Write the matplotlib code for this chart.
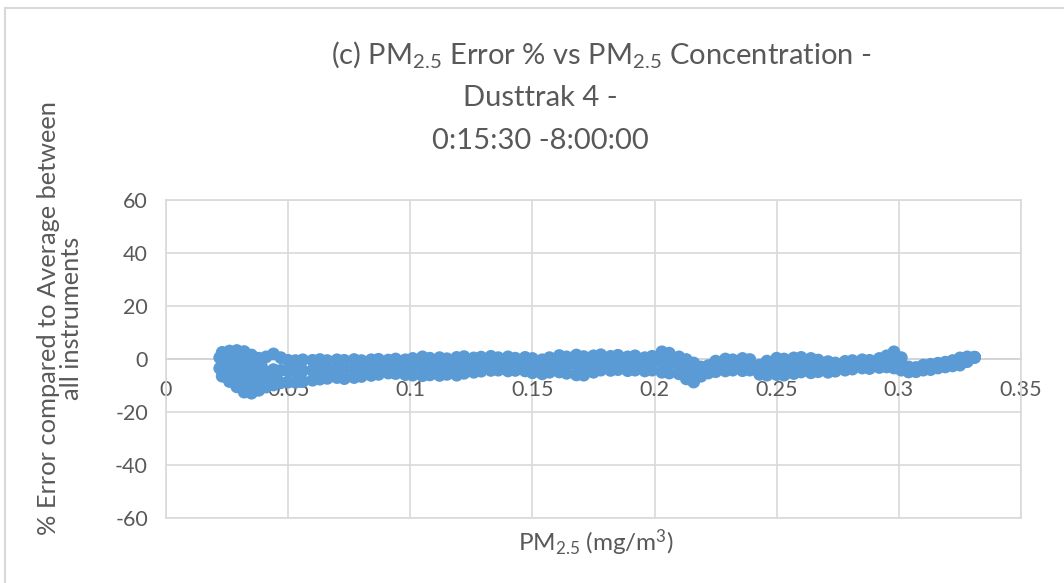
import numpy as np
import matplotlib.pyplot as plt
from matplotlib.patches import Rectangle

plt.rcParams['font.family'] = ['Lato', 'DejaVu Sans']
plt.rcParams['mathtext.fontset'] = 'custom'
plt.rcParams['mathtext.rm'] = 'Lato'
plt.rcParams['mathtext.it'] = 'Lato:italic'
plt.rcParams['mathtext.bf'] = 'Lato:bold'
plt.rcParams['axes.unicode_minus'] = False

# PM2.5 concentration (mg/m3) and error % (edges and middle of the cloud)
x_pm = [0.023, 0.026, 0.029, 0.032, 0.035, 0.038, 0.041, 0.044, 0.047, 0.050,
        0.053, 0.056, 0.060, 0.063, 0.066, 0.070, 0.073, 0.077, 0.080, 0.084,
        0.087, 0.091, 0.094, 0.098, 0.101, 0.105, 0.108, 0.112, 0.115, 0.119,
        0.122, 0.126, 0.129, 0.133, 0.136, 0.140, 0.143, 0.147, 0.150, 0.154,
        0.157, 0.161, 0.164, 0.168, 0.171, 0.175, 0.178, 0.182, 0.185, 0.189,
        0.192, 0.196, 0.199, 0.203, 0.206, 0.210, 0.213, 0.216, 0.219, 0.222,
        0.225, 0.229, 0.232, 0.236, 0.239, 0.243, 0.246, 0.250, 0.253, 0.257,
        0.260, 0.264, 0.267, 0.271, 0.274, 0.278, 0.281, 0.285, 0.288, 0.292,
        0.295, 0.298, 0.301, 0.304, 0.307, 0.310, 0.313, 0.316, 0.319, 0.322,
        0.325, 0.328, 0.331]

err_top = [2.5, 3.0, 3.2, 2.8, 1.5, 0.3, 0.8, 1.9, 0.5, -0.5,
           -0.6, -0.3, -0.5, -0.2, -0.6, -0.3, -0.5, -0.2, -0.6, -0.3,
           -0.1, -0.4, 0.0, -0.3, 0.2, 0.8, 0.3, 0.5, 0.1, 0.6,
           0.9, 0.4, 0.7, 1.0, 0.5, 0.8, 0.3, 0.6, 0.2, -0.3,
           0.5, 1.3, 0.8, 1.5, 0.9, 1.2, 1.6, 1.0, 1.4, 0.8,
           1.2, 0.5, 1.0, 2.7, 2.2, 0.8, -0.2, -1.5, -3.0, -2.5,
           -0.8, 0.0, -0.3, 0.2, -0.2, -2.3, -0.8, 0.3, 0.0, 0.4,
           0.6, 0.2, -0.4, -1.0, -1.5, -0.9, -0.6, -0.3, -0.5, 0.2,
           1.2, 2.7, 0.5, -3.0, -3.2, -2.3, -2.0, -1.6, -1.2, -0.6,
           0.4, 0.8, 0.7]

err_mid = [-2.0, -2.8, -3.6, -4.8, -5.6, -5.8, -4.9, -4.0, -4.3, -4.6,
           -4.7, -4.4, -4.2, -3.9, -4.0, -3.7, -3.9, -3.6, -3.6, -3.3,
           -2.9, -2.8, -2.7, -3.1, -2.9, -2.8, -2.9, -2.8, -2.9, -2.7,
           -2.2, -2.3, -1.9, -1.6, -1.9, -1.8, -2.0, -1.9, -2.5, -2.9,
           -2.2, -1.8, -2.3, -2.2, -2.6, -1.9, -1.3, -1.7, -1.3, -1.8,
           -1.5, -2.0, -1.6, -1.1, -1.5, -2.4, -3.8, -5.0, -4.7, -3.9,
           -2.8, -2.2, -2.3, -2.1, -2.2, -4.0, -3.4, -2.8, -3.0, -2.5,
           -2.2, -2.5, -2.6, -3.0, -3.1, -2.6, -2.2, -1.9, -2.0, -1.5,
           -0.9, -0.4, -1.9, -4.0, -4.0, -3.2, -3.0, -2.5, -2.1, -1.6,
           -1.0, -0.1, 0.6]

err_bot = [-6.5, -8.5, -10.5, -12.5, -12.9, -11.8, -10.6, -9.8, -9.0, -8.7,
           -8.8, -8.5, -8.0, -7.6, -7.3, -7.0, -7.4, -7.0, -6.6, -6.2,
           -5.8, -5.3, -5.5, -5.9, -6.1, -6.3, -6.0, -6.2, -5.8, -6.1,
           -5.4, -5.0, -4.6, -4.3, -4.2, -4.5, -4.3, -4.5, -5.2, -5.6,
           -5.0, -4.9, -5.4, -6.0, -6.1, -5.0, -4.2, -4.3, -4.0, -4.4,
           -4.2, -4.5, -4.2, -5.0, -5.3, -5.6, -7.5, -8.7, -6.5, -5.3,
           -4.8, -4.5, -4.2, -4.4, -4.2, -5.8, -6.1, -5.9, -6.1, -5.5,
           -4.9, -5.2, -4.8, -5.0, -4.6, -4.2, -3.8, -3.4, -3.6, -3.2,
           -3.0, -3.4, -4.2, -4.9, -4.8, -4.2, -4.0, -3.4, -3.0, -2.6,
           -2.3, -1.0, 0.6]

# extra points in the wide cloud at low concentration
x_low = [0.022, 0.024, 0.027, 0.030, 0.033, 0.036, 0.039, 0.042, 0.045, 0.024,
         0.027, 0.030, 0.033, 0.036, 0.039, 0.028, 0.031, 0.034, 0.037, 0.022, 0.025]
err_low = [0.5, -4.5, -6.5, -8.0, -9.0, -9.5, -8.5, -7.5, -6.5, 0.0,
           -0.5, -1.0, -1.5, -2.0, -2.5, 1.5, 0.5, -10.5, -9.0, -3.5, 1.0]

xticks = [0, 0.05, 0.1, 0.15, 0.2, 0.25, 0.3, 0.35]
xticklabels = ['0', '0.05', '0.1', '0.15', '0.2', '0.25', '0.3', '0.35']
yticks = [-60, -40, -20, 0, 20, 40, 60]

W, H = 1064, 583
fig = plt.figure(figsize=(W / 100, H / 100), dpi=100)
ax = fig.add_axes([166 / W, 1 - 518 / H, (1021 - 166) / W, (518 - 200) / H])

# chart border
fig.patches.append(Rectangle((5 / W, -0.1), 1.2, 1 - 8 / H + 0.1, transform=fig.transFigure,
                             fill=False, edgecolor='#d9d9d9', lw=1.5))

blue = '#5b9bd5'
for ys in (err_top, err_mid, err_bot):
    ax.scatter(x_pm, ys, s=85, color=blue, edgecolors='none', zorder=3, clip_on=False)
ax.scatter(x_low, err_low, s=85, color=blue, edgecolors='none', zorder=3, clip_on=False)

ax.set_xlim(0, 0.35)
ax.set_ylim(-60, 60)
ax.set_xticks(xticks)
ax.set_xticklabels(xticklabels)
ax.set_yticks(yticks)

grid_c = '#d9d9d9'
ax.grid(True, color=grid_c, lw=1.2, zorder=0)
for s in ('left', 'right', 'top'):
    ax.spines[s].set_color(grid_c)
    ax.spines[s].set_linewidth(1.2)
ax.spines['bottom'].set_position(('data', 0))
ax.spines['bottom'].set_color('#bfbfbf')
ax.spines['bottom'].set_linewidth(1.3)
ax.spines['bottom'].set_zorder(1)
ax.axhline(-60, color=grid_c, lw=1.2, clip_on=False, zorder=0)

ax.tick_params(axis='both', length=0, colors='#595959', labelsize=15.5)
ax.tick_params(axis='x', pad=15)
ax.tick_params(axis='y', pad=13)

tc = '#595959'
fig.text(60 / W, 1 - 318 / H, '% Error compared to Average between\nall instruments',
         fontsize=18.3, color=tc, rotation=90, linespacing=1.0, ha='center', va='center',
         multialignment='center')
fig.text(596 / W, 1 - 543 / H, r'PM$_{2.5}$ (mg/m$^{3}$)', fontsize=17.5, color=tc,
         ha='center', va='center')

fig.text(601 / W, 1 - 55 / H, r'(c) PM$_{2.5}$ Error % vs PM$_{2.5}$ Concentration -',
         fontsize=21, color=tc, ha='center', va='center')
fig.text(540 / W, 1 - 98 / H, 'Dusttrak 4 -', fontsize=21, color=tc, ha='center', va='center')
fig.text(540 / W, 1 - 141 / H, '0:15:30 -8:00:00', fontsize=21, color=tc, ha='center', va='center')

fig.savefig('out.png', dpi=100)
